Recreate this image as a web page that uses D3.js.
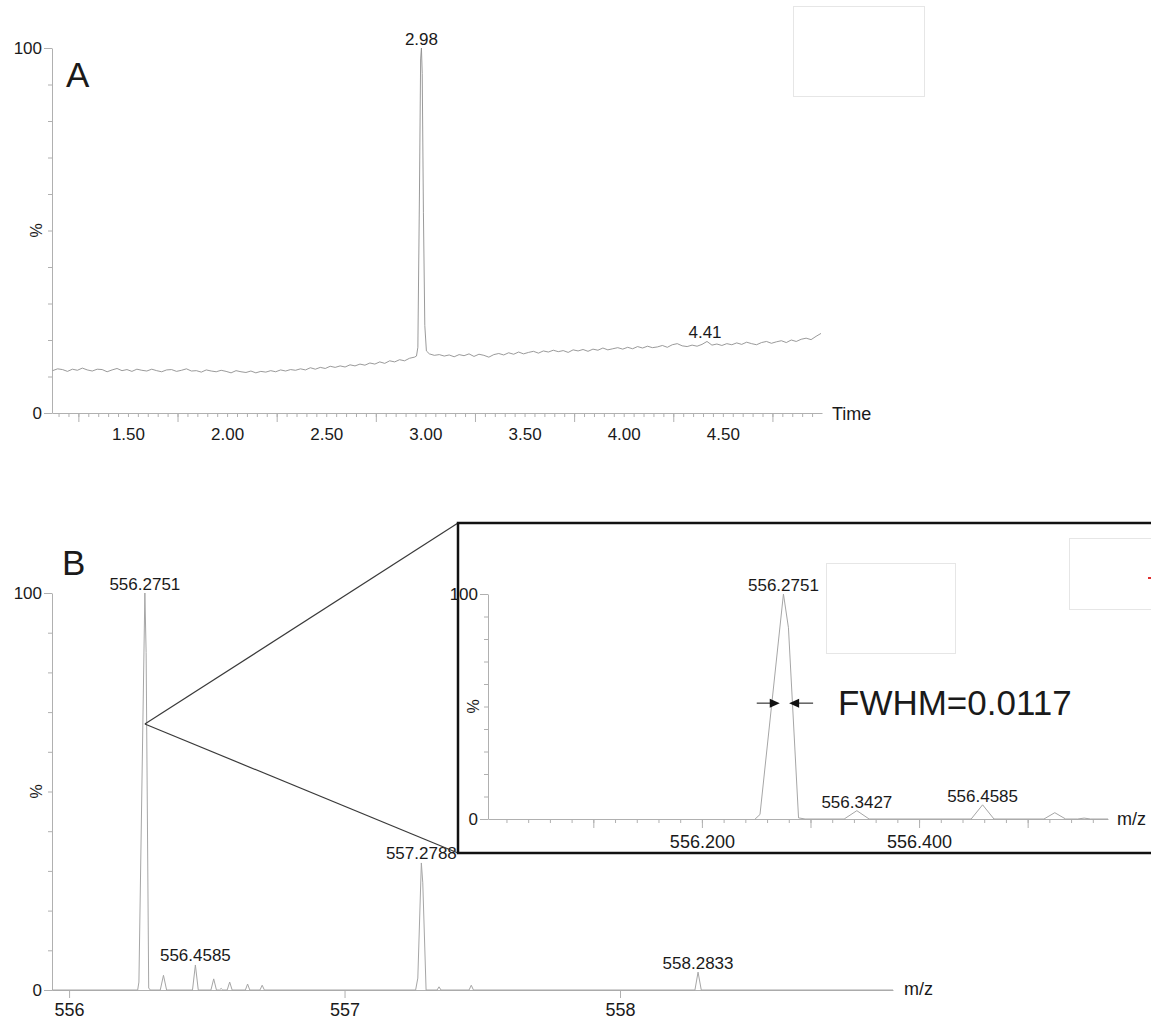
<!DOCTYPE html>
<html><head><meta charset="utf-8">
<script src="https://cdn.jsdelivr.net/npm/d3@7"></script>
<style>
body{margin:0;background:#fff}
</style></head><body>
<svg id="c" width="1151" height="1026"></svg>
<script>
// ---------------- DATA ----------------
// Panel A: total ion chromatogram (scan start / interval in minutes, intensities in %)
const chromStart = 1.12;
const chromStep = 0.025;
const chromBaseline = [
  11.6, 12.1, 11.9, 11.4, 12.0, 11.7, 12.3, 11.8, 11.5, 12.0,
  11.9, 11.3, 11.8, 12.2, 11.6, 11.9, 11.4, 12.0, 11.7, 11.5,
  12.0, 11.6, 11.3, 11.8, 11.9, 11.4, 11.7, 12.1, 11.5, 11.6,
  11.2, 11.8, 11.5, 11.3, 11.7, 11.4, 11.0, 11.6, 11.3, 11.1,
  11.5, 11.0, 11.4, 11.2, 11.6, 11.3, 11.8, 11.5, 11.9, 11.7,
  12.1, 11.8, 12.4, 12.0, 12.5, 12.2, 12.8, 12.5, 12.9, 12.6,
  13.2, 12.9, 13.4, 13.1, 13.7, 13.4, 14.0, 13.6, 14.3, 14.0,
  14.6, 14.3, 15.0, 15.2, 15.5, 15.8, 16.0, 15.9, 16.1,
  15.6, 15.9, 15.4, 16.0, 15.7, 16.2, 15.5, 16.1, 15.8, 15.3, 16.0,
  16.3, 15.9, 16.5, 16.1, 16.7, 16.2,
  16.6, 16.9, 16.4, 17.0, 16.7, 17.2, 16.8, 17.1, 16.6, 17.3,
  17.0, 17.4, 16.9, 17.5, 17.2, 17.8, 17.3, 17.6, 17.9, 17.5,
  18.0, 17.6, 18.2, 17.8, 18.3, 17.9, 18.1, 18.5, 18.0, 18.7,
  19.0, 18.4, 18.2, 18.6, 18.3, 18.8, 19.6, 18.6, 18.9, 18.5,
  19.0, 18.7, 19.2, 18.8, 19.4, 19.0, 18.7, 19.3, 19.6, 19.1,
  19.5, 19.8, 19.3, 20.0, 19.6, 20.2, 20.5, 20.1, 21.0, 21.8
];
// Peak region of the chromatogram, [time, %]
const chromPeak = [
  [2.945, 15.3], [2.955, 15.6], [2.962, 18], [2.970, 60], [2.976, 97],
  [2.980, 100], [2.984, 93], [2.990, 55], [2.997, 24], [3.005, 17],
  [3.020, 16.2], [3.045, 15.8], [3.070, 16.0]
];
const chromLabels = [
  { t: 2.98, v: 100, label: "2.98" },
  { t: 4.41, v: 19.6, label: "4.41" }
];
const timeDomain = [1.117, 5.0];
const timeTickValues = [1.5, 2.0, 2.5, 3.0, 3.5, 4.0, 4.5];
const timeTickLabels = ["1.50", "2.00", "2.50", "3.00", "3.50", "4.00", "4.50"];

// Panel B: mass spectrum profile, [m/z, %]
const spectrum = [
  [555.938, 0],
  [556.249, 0], [556.2535, 2], [556.2751, 100], [556.2797, 85], [556.289, 0.5], [556.295, 0],
  [556.331, 0], [556.3427, 3.7], [556.354, 0],
  [556.448, 0], [556.4585, 6.3], [556.469, 0],
  [556.515, 0], [556.525, 2.8], [556.535, 0],
  [556.546, 0], [556.552, 0.4], [556.558, 0],
  [556.574, 0], [556.583, 2.0], [556.592, 0],
  [556.640, 0], [556.648, 1.5], [556.656, 0],
  [556.693, 0], [556.701, 1.2], [556.709, 0],
  [557.258, 0], [557.266, 3], [557.2788, 32], [557.284, 27], [557.296, 0],
  [557.336, 0], [557.343, 0.8], [557.350, 0],
  [557.452, 0], [557.460, 1.2], [557.468, 0],
  [558.272, 0], [558.2833, 4.5], [558.295, 0],
  [558.991, 0]
];
const spectrumLabels = [
  { mz: 556.2751, v: 100, label: "556.2751" },
  { mz: 556.4585, v: 6.3, label: "556.4585" },
  { mz: 557.2788, v: 32, label: "557.2788" },
  { mz: 558.2833, v: 4.5, label: "558.2833" }
];
const mzDomain = [555.938, 558.991];
const mzTickValues = [556, 557, 558];
const mzTickLabels = ["556", "557", "558"];

// Inset (zoom on the base peak)
const insetDomain = [556.003, 556.574];
const insetLabels = [
  { mz: 556.2751, v: 100, label: "556.2751" },
  { mz: 556.3427, v: 3.7, label: "556.3427" },
  { mz: 556.4585, v: 6.3, label: "556.4585" }
];
const insetTickValues = [556.2, 556.4];
const insetTickLabels = ["556.200", "556.400"];
const fwhmText = "FWHM=0.0117";
const fwhmEdges = [556.2717, 556.2803];
const fwhmLevel = 51.5;
const zoomAnchor = { mz: 556.2751, v: 67 };

// ---------------- DRAWING ----------------
const FONT = '"Liberation Sans", Arial, Helvetica, sans-serif';
const AXIS = "#b0b0b0", TXT = "#1a1a1a";
const svg = d3.select("#c");
svg.append("rect").attr("width", 1151).attr("height", 1026).attr("fill", "#fff");

function styleAxis(g, fs) {
  g.attr("font-family", FONT).attr("font-size", fs).attr("color", AXIS);
  g.selectAll("text").attr("fill", TXT);
  return g;
}
function yAxes(parent, y, x0, labelPad) {
  styleAxis(parent.append("g").attr("transform", `translate(${x0},0)`)
    .call(d3.axisLeft(y).tickValues(d3.range(0, 101, 10)).tickSize(4).tickSizeOuter(0).tickFormat("")), 17);
  const g = styleAxis(parent.append("g").attr("transform", `translate(${x0},0)`)
    .call(d3.axisLeft(y).tickValues([0, 100]).tickSize(8).tickPadding(labelPad).tickFormat(d3.format("d"))), 17);
  g.select(".domain").remove();
}
function pctLabel(parent, x, y) {
  parent.append("text").attr("transform", `translate(${x},${y}) rotate(-90)`)
    .attr("text-anchor", "middle").attr("font-family", FONT).attr("font-size", 16)
    .attr("fill", TXT).text("%");
}

// ===== Panel A =====
const xA = d3.scaleLinear().domain(timeDomain).range([52, 822]);
const yA = d3.scaleLinear().domain([0, 100]).range([413, 48]);
const gA = svg.append("g");

gA.append("rect").attr("x", 793.5).attr("y", 6.5).attr("width", 131).attr("height", 90)
  .attr("fill", "none").attr("stroke", "#e6e6e6");

yAxes(gA, yA, 52, 2);
// x axis: minor ticks, tall ticks, labels
const minorA = d3.range(23, 100).map(i => +(i * 0.05).toFixed(2)).filter(t => t > timeDomain[0] && t < timeDomain[1]);
styleAxis(gA.append("g").attr("transform", "translate(0,413)")
  .call(d3.axisBottom(xA).tickValues(minorA).tickSize(4).tickSizeOuter(0).tickFormat("")), 17);
const tallA = d3.range(1.25, 5, 0.5);
styleAxis(gA.append("g").attr("transform", "translate(0,413)")
  .call(d3.axisBottom(xA).tickValues(tallA).tickSize(9).tickSizeOuter(0).tickFormat("")), 17)
  .select(".domain").remove();
styleAxis(gA.append("g").attr("transform", "translate(0,413)")
  .call(d3.axisBottom(xA).tickValues(timeTickValues).tickSize(0).tickPadding(15)
    .tickFormat((d, i) => timeTickLabels[i])), 17)
  .select(".domain").remove();

gA.append("text").attr("x", 832).attr("y", 420).attr("font-family", FONT).attr("font-size", 18)
  .attr("fill", TXT).text("Time");
gA.append("text").attr("x", 66).attr("y", 87).attr("font-family", FONT).attr("font-size", 35)
  .attr("fill", TXT).text("A");
pctLabel(gA, 42, yA(50));

const chromPts = chromBaseline
  .map((v, i) => [chromStart + i * chromStep, v])
  .filter(p => p[0] < 2.93 || p[0] > 3.08)
  .concat(chromPeak)
  .sort((a, b) => a[0] - b[0]);
gA.append("path").datum(chromPts)
  .attr("d", d3.line().x(d => xA(d[0])).y(d => yA(d[1])))
  .attr("fill", "none").attr("stroke", "#8f8f8f").attr("stroke-width", 0.9);

gA.selectAll("text.pk").data(chromLabels).join("text").attr("class", "pk")
  .attr("x", d => xA(d.t)).attr("y", d => yA(d.v) - 3)
  .attr("text-anchor", "middle").attr("font-family", FONT).attr("font-size", 17)
  .attr("fill", TXT).text(d => d.label);

// ===== Panel B =====
const xB = d3.scaleLinear().domain(mzDomain).range([52, 893]);
const yB = d3.scaleLinear().domain([0, 100]).range([990, 593]);
const gB = svg.append("g");
yAxes(gB, yB, 52, 2);
styleAxis(gB.append("g").attr("transform", "translate(0,990)")
  .call(d3.axisBottom(xB).tickValues(mzTickValues).tickSize(8).tickPadding(5).tickSizeOuter(0)
    .tickFormat((d, i) => mzTickLabels[i])), 18);
gB.append("text").attr("x", 904).attr("y", 995).attr("font-family", FONT).attr("font-size", 18)
  .attr("fill", TXT).text("m/z");
gB.append("text").attr("x", 62).attr("y", 575).attr("font-family", FONT).attr("font-size", 35)
  .attr("fill", TXT).text("B");
pctLabel(gB, 42, yB(50));

gB.append("path").datum(spectrum)
  .attr("d", d3.line().x(d => xB(d[0])).y(d => yB(d[1])))
  .attr("fill", "none").attr("stroke", "#a6a6a6").attr("stroke-width", 1);
gB.selectAll("text.pk").data(spectrumLabels).join("text").attr("class", "pk")
  .attr("x", d => xB(d.mz)).attr("y", d => yB(d.v) - 3.5)
  .attr("text-anchor", "middle").attr("font-family", FONT).attr("font-size", 17)
  .attr("fill", TXT).text(d => d.label);

// zoom lines
const ax = xB(zoomAnchor.mz), ay = yB(zoomAnchor.v);
const box = { x: 458, y: 523, w: 720, h: 330 };
gB.append("line").attr("x1", ax).attr("y1", ay).attr("x2", box.x).attr("y2", box.y)
  .attr("stroke", "#3a3a3a").attr("stroke-width", 1.2);
gB.append("line").attr("x1", ax).attr("y1", ay).attr("x2", box.x).attr("y2", box.y + box.h)
  .attr("stroke", "#3a3a3a").attr("stroke-width", 1.2);

// ===== Inset =====
const gI = svg.append("g");
gI.append("rect").attr("x", box.x).attr("y", box.y).attr("width", box.w).attr("height", box.h)
  .attr("fill", "#fff").attr("stroke", "#111").attr("stroke-width", 2.5);
gI.append("rect").attr("x", 826.5).attr("y", 563.5).attr("width", 129).attr("height", 90)
  .attr("fill", "none").attr("stroke", "#e6e6e6");
gI.append("rect").attr("x", 1069.5).attr("y", 538.5).attr("width", 100).attr("height", 71)
  .attr("fill", "none").attr("stroke", "#e6e6e6");
gI.append("line").attr("x1", 1148).attr("x2", 1152).attr("y1", 578).attr("y2", 578)
  .attr("stroke", "#e03030").attr("stroke-width", 2);

const xI = d3.scaleLinear().domain(insetDomain).range([488, 1108]);
const yI = d3.scaleLinear().domain([0, 100]).range([819, 594]);
yAxes(gI, yI, 488, 2);
const minorI = d3.range(1, 29).map(i => +(556 + i * 0.02).toFixed(2));
styleAxis(gI.append("g").attr("transform", "translate(0,819)")
  .call(d3.axisBottom(xI).tickValues(minorI).tickSize(4).tickSizeOuter(0).tickFormat("")), 18);
const tallI = d3.range(1, 6).map(i => +(556 + i * 0.1).toFixed(1));
styleAxis(gI.append("g").attr("transform", "translate(0,819)")
  .call(d3.axisBottom(xI).tickValues(tallI).tickSize(9).tickSizeOuter(0).tickFormat("")), 18)
  .select(".domain").remove();
styleAxis(gI.append("g").attr("transform", "translate(0,819)")
  .call(d3.axisBottom(xI).tickValues(insetTickValues).tickSize(0).tickPadding(16)
    .tickFormat((d, i) => insetTickLabels[i])), 18)
  .select(".domain").remove();
gI.append("text").attr("x", 1117).attr("y", 825).attr("font-family", FONT).attr("font-size", 18)
  .attr("fill", TXT).text("m/z");
pctLabel(gI, 479, yI(50));

svg.append("defs").append("clipPath").attr("id", "clipI")
  .append("rect").attr("x", 488).attr("y", 560).attr("width", 620).attr("height", 262);
gI.append("path").datum(spectrum.filter(d => d[0] >= 555.99 && d[0] <= 556.65))
  .attr("clip-path", "url(#clipI)")
  .attr("d", d3.line().x(d => xI(d[0])).y(d => yI(d[1])))
  .attr("fill", "none").attr("stroke", "#a6a6a6").attr("stroke-width", 1);
gI.selectAll("text.pk").data(insetLabels).join("text").attr("class", "pk")
  .attr("x", d => xI(d.mz)).attr("y", d => yI(d.v) - 3)
  .attr("text-anchor", "middle").attr("font-family", FONT).attr("font-size", 17)
  .attr("fill", TXT).text(d => d.label);

// FWHM arrows
const fy = yI(fwhmLevel);
const lTip = xI(fwhmEdges[0]), rTip = xI(fwhmEdges[1]);
gI.append("line").attr("x1", lTip - 23).attr("x2", lTip - 8).attr("y1", fy).attr("y2", fy)
  .attr("stroke", "#111").attr("stroke-width", 1);
gI.append("path").attr("d", `M${lTip},${fy}L${lTip - 10},${fy - 4.5}L${lTip - 10},${fy + 4.5}Z`).attr("fill", "#111");
gI.append("line").attr("x1", rTip + 8).attr("x2", rTip + 24).attr("y1", fy).attr("y2", fy)
  .attr("stroke", "#111").attr("stroke-width", 1);
gI.append("path").attr("d", `M${rTip},${fy}L${rTip + 10},${fy - 4.5}L${rTip + 10},${fy + 4.5}Z`).attr("fill", "#111");
gI.append("text").attr("x", 838).attr("y", 715).attr("font-family", FONT).attr("font-size", 35)
  .attr("fill", TXT).text(fwhmText);
</script>
</body></html>
